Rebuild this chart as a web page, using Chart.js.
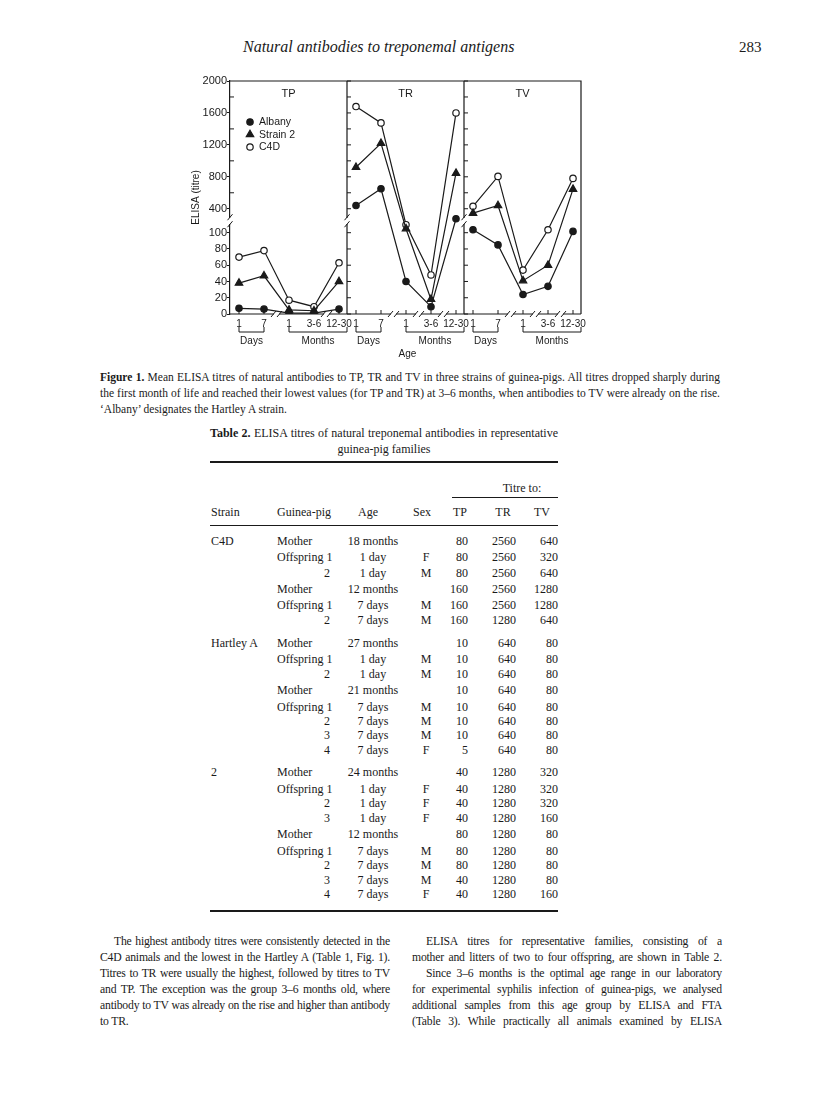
<!DOCTYPE html>
<html>
<head>
<meta charset="utf-8">
<script src="https://cdn.jsdelivr.net/npm/chart.js@4.4.0/dist/chart.umd.min.js"></script>
<style>
  body { margin: 0; width: 816px; height: 1105px; position: relative; background: #fff; color: #1a1a1a;
         font-family: "Liberation Serif", "Times New Roman", serif; }
  .t { position: absolute; white-space: nowrap; line-height: 14px; }
  .j { position: absolute; white-space: nowrap; line-height: 16px; text-align: justify; text-align-last: justify; }
  .b { font-size: 11.7px; letter-spacing: -0.2px; }
  .rule { position: absolute; background: #1a1a1a; }
  #wrap { position: absolute; left: 190px; top: 60px; width: 410px; height: 305px; }
</style>
</head>
<body>
<div class="t" style="left:243px;top:38px;font-size:16px;line-height:18px;font-style:italic">Natural antibodies to treponemal antigens</div>
<div class="t" style="left:739px;top:38px;font-size:15px;line-height:18px">283</div>

<div id="wrap"><canvas id="elisaChart"></canvas></div>

<div class="j" style="left:100px;top:369px;width:620px;font-size:11.5px"><b>Figure 1.</b> Mean ELISA titres of natural antibodies to TP, TR and TV in three strains of guinea-pigs. All titres dropped sharply during</div>
<div class="j" style="left:100px;top:385px;width:620px;font-size:11.5px">the first month of life and reached their lowest values (for TP and TR) at 3–6 months, when antibodies to TV were already on the rise.</div>
<div class="t" style="left:100px;top:402px;font-size:11.5px">‘Albany’ designates the Hartley A strain.</div>

<div class="j" style="left:210px;top:425px;width:348px;font-size:12px"><b>Table 2.</b> ELISA titres of natural treponemal antibodies in representative</div>
<div class="t" style="left:384px;top:442px;font-size:12px;transform:translateX(-50%)">guinea-pig families</div>
<div class="rule" style="left:210px;top:461px;width:348px;height:2px"></div>
<div class="rule" style="left:452px;top:497px;width:106px;height:1px"></div>
<div class="rule" style="left:210px;top:525px;width:348px;height:1px"></div>
<div class="rule" style="left:210px;top:910px;width:348px;height:1.5px"></div>
<div id="table"></div>

<div class="j b" style="left:114px;top:934px;width:276px">The highest antibody titres were consistently detected in the</div>
<div class="j b" style="left:100px;top:950px;width:290px">C4D animals and the lowest in the Hartley A (Table 1, Fig. 1).</div>
<div class="j b" style="left:100px;top:966px;width:290px">Titres to TR were usually the highest, followed by titres to TV</div>
<div class="j b" style="left:100px;top:982px;width:290px">and TP. The exception was the group 3–6 months old, where</div>
<div class="j b" style="left:100px;top:998px;width:290px">antibody to TV was already on the rise and higher than antibody</div>
<div class="t b" style="left:100px;top:1015px">to TR.</div>

<div class="j b" style="left:426px;top:934px;width:296px">ELISA titres for representative families, consisting of a</div>
<div class="j b" style="left:412px;top:950px;width:310px">mother and litters of two to four offspring, are shown in Table 2.</div>
<div class="j b" style="left:426px;top:966px;width:296px">Since 3–6 months is the optimal age range in our laboratory</div>
<div class="j b" style="left:412px;top:982px;width:310px">for experimental syphilis infection of guinea-pigs, we analysed</div>
<div class="j b" style="left:412px;top:998px;width:310px">additional samples from this age group by ELISA and FTA</div>
<div class="j b" style="left:412px;top:1014px;width:310px">(Table 3). While practically all animals examined by ELISA</div>

<script>
const ageLabels = ['1', '7', '1', '3-6', '12-30'];
const panelNames = ['TP', 'TR', 'TV'];
const yLabels = [0, 20, 40, 60, 80, 100, 400, 800, 1200, 1600, 2000];
const yMinor = [600, 1000, 1400, 1800];

// mean titres, 5 ages per panel, panels TP | TR | TV
const albany  = [7, 6, 1, 1, 6,     440, 650, 40, 9, 275,     137, 85, 24, 34, 116];
const strain2 = [38, 47, 5, 4, 40,  920, 1220, 150, 18, 845,  345, 440, 41, 60, 645];
const c4d     = [70, 78, 17, 9, 63, 1680, 1475, 200, 48, 1600, 430, 805, 54, 137, 780];

// table 2 rows: strain, guinea-pig, age, sex, TP, TR, TV
const tableRows = [
  ['C4D', 'Mother', '18 months', '', '80', '2560', '640'],
  ['', 'Offspring 1', '1 day', 'F', '80', '2560', '320'],
  ['', '2', '1 day', 'M', '80', '2560', '640'],
  ['', 'Mother', '12 months', '', '160', '2560', '1280'],
  ['', 'Offspring 1', '7 days', 'M', '160', '2560', '1280'],
  ['', '2', '7 days', 'M', '160', '1280', '640'],
  ['Hartley A', 'Mother', '27 months', '', '10', '640', '80'],
  ['', 'Offspring 1', '1 day', 'M', '10', '640', '80'],
  ['', '2', '1 day', 'M', '10', '640', '80'],
  ['', 'Mother', '21 months', '', '10', '640', '80'],
  ['', 'Offspring 1', '7 days', 'M', '10', '640', '80'],
  ['', '2', '7 days', 'M', '10', '640', '80'],
  ['', '3', '7 days', 'M', '10', '640', '80'],
  ['', '4', '7 days', 'F', '5', '640', '80'],
  ['2', 'Mother', '24 months', '', '40', '1280', '320'],
  ['', 'Offspring 1', '1 day', 'F', '40', '1280', '320'],
  ['', '2', '1 day', 'F', '40', '1280', '320'],
  ['', '3', '1 day', 'F', '40', '1280', '160'],
  ['', 'Mother', '12 months', '', '80', '1280', '80'],
  ['', 'Offspring 1', '7 days', 'M', '80', '1280', '80'],
  ['', '2', '7 days', 'M', '80', '1280', '80'],
  ['', '3', '7 days', 'M', '40', '1280', '80'],
  ['', '4', '7 days', 'F', '40', '1280', '160']
];
const rowY = [541, 557, 573, 589, 605, 620, 643, 659, 674, 690, 707, 721, 735, 750,
              772, 789, 803, 818, 834, 851, 865, 880, 894];

// ---- table (plain text) ----
const tbl = document.getElementById('table');
function put(text, x, y, align) {
  const d = document.createElement('div');
  d.className = 't';
  d.textContent = text;
  d.style.fontSize = '12px';
  d.style.top = (y - 7) + 'px';
  if (align === 'right') d.style.right = (816 - x) + 'px';
  else if (align === 'center') { d.style.left = x + 'px'; d.style.transform = 'translateX(-50%)'; }
  else d.style.left = x + 'px';
  tbl.appendChild(d);
}
put('Titre to:', 522, 488, 'center');
[['Strain', 211, 'left'], ['Guinea-pig', 277, 'left'], ['Age', 368, 'center'], ['Sex', 422, 'center'],
 ['TP', 460, 'center'], ['TR', 503, 'center'], ['TV', 542, 'center']].forEach(h => put(h[0], h[1], 512, h[2]));
tableRows.forEach((r, k) => {
  const y = rowY[k];
  if (r[0]) put(r[0], 211, y, 'left');
  if (/^\d$/.test(r[1])) put(r[1], 330, y, 'right'); else put(r[1], 277, y, 'left');
  put(r[2], 373, y, 'center');
  if (r[3]) put(r[3], 426, y, 'center');
  put(r[4], 468, y, 'right');
  put(r[5], 516, y, 'right');
  put(r[6], 558, y, 'right');
});

// ---- chart ----
const ink = '#1a1a1a';
const chartFont = '"Liberation Sans", Arial, sans-serif';
const STEP = 4.68;           // x units from one panel to the next
const CUT = 100, K = 0.0982; // axis breaks above 100, compressed scale

function toAxis(v) { return v <= CUT ? v : CUT + (v - CUT) * K; }
function xOf(p, i) { return p * STEP + i; }

function series(vals) {
  const pts = [];
  panelNames.forEach((_, p) => {
    if (p > 0) pts.push({ x: xOf(p, -0.36), y: null });
    ageLabels.forEach((_, i) => pts.push({ x: xOf(p, i), y: toAxis(vals[p * ageLabels.length + i]) }));
  });
  return pts;
}

function slash(ctx, x, y) {
  ctx.beginPath();
  ctx.moveTo(x - 2.5, y + 3);
  ctx.lineTo(x + 2.5, y - 3);
  ctx.stroke();
}

const framePlugin = {
  id: 'frame',
  beforeDatasetsDraw(chart) {
    const { ctx, chartArea: a, scales: { x: xs, y: ys } } = chart;
    ctx.save();
    ctx.strokeStyle = ink;
    ctx.lineWidth = 1.2;
    ctx.beginPath();
    ctx.moveTo(a.left, a.top); ctx.lineTo(a.right, a.top); ctx.lineTo(a.right, a.bottom);
    ctx.moveTo(a.left, a.bottom); ctx.lineTo(a.right, a.bottom);
    const dividers = [1, 2].map(p => xs.getPixelForValue(xOf(p, -0.36)));
    dividers.forEach(dx => { ctx.moveTo(dx, a.top); ctx.lineTo(dx, a.bottom); });
    ctx.stroke();

    // inner ticks
    ctx.lineWidth = 1;
    ctx.beginPath();
    yLabels.concat(yMinor).forEach(v => {
      const py = ys.getPixelForValue(toAxis(v));
      dividers.forEach(dx => { ctx.moveTo(dx, py); ctx.lineTo(dx + 4, py); });
    });
    yMinor.forEach(v => {
      const py = ys.getPixelForValue(toAxis(v));
      ctx.moveTo(a.left, py); ctx.lineTo(a.left + 4, py);
    });
    panelNames.forEach((_, p) => ageLabels.forEach((_, i) => {
      const px = xs.getPixelForValue(xOf(p, i));
      ctx.moveTo(px, a.bottom); ctx.lineTo(px, a.bottom - 4);
    }));
    ctx.stroke();

    // y-axis breaks
    const yb = (ys.getPixelForValue(toAxis(100)) + ys.getPixelForValue(toAxis(400))) / 2;
    [a.left].concat(dividers).forEach(bx => {
      ctx.clearRect(bx - 2, yb - 3, 4, 6);
      slash(ctx, bx, yb - 3.5);
      slash(ctx, bx, yb + 3.5);
    });

    // x-axis breaks
    const xBreaks = [[1.5, 3.5], [1.5, 2.5, 3.5], [1.5, 2.5, 3.5]];
    xBreaks.forEach((list, p) => list.forEach(b => {
      const bx = xs.getPixelForValue(xOf(p, b));
      ctx.clearRect(bx - 2.5, a.bottom - 2, 5, 4);
      slash(ctx, bx - 3, a.bottom);
      slash(ctx, bx + 3, a.bottom);
    }));
    ctx.restore();
  },
  afterDraw(chart) {
    const { ctx, chartArea: a, scales: { x: xs } } = chart;
    ctx.save();
    ctx.fillStyle = ink;
    ctx.strokeStyle = ink;
    ctx.textBaseline = 'middle';

    // panel titles
    ctx.font = '11px ' + chartFont;
    ctx.textAlign = 'center';
    const edges = [0, 1, 2, 3].map(p => p < 3 ? xs.getPixelForValue(xOf(p, -0.36)) : a.right);
    panelNames.forEach((n, p) => ctx.fillText(n, (edges[p] + edges[p + 1]) / 2, a.top + 13));

    // legend
    const legend = chart.data.datasets;
    ctx.font = '10.5px ' + chartFont;
    ctx.textAlign = 'left';
    legend.forEach((ds, k) => {
      const ly = a.top + 41 + k * 12.5;
      ctx.fillStyle = ds.pointBackgroundColor;
      ctx.lineWidth = ds.pointBorderWidth;
      Chart.helpers.drawPoint(ctx, { pointStyle: ds.pointStyle, radius: ds.pointRadius, rotation: 0, borderWidth: ds.pointBorderWidth }, a.left + 20, ly);
      ctx.fillStyle = ink;
      ctx.fillText(ds.label, a.left + 29, ly + 0.5);
    });

    // age labels and brackets
    ctx.font = '10px ' + chartFont;
    ctx.textAlign = 'center';
    ctx.lineWidth = 1;
    panelNames.forEach((_, p) => {
      const px = ageLabels.map((_, i) => xs.getPixelForValue(xOf(p, i)));
      ageLabels.forEach((l, i) => ctx.fillText(l, px[i], a.bottom + 10));
      const groups = [['Days', px[0], px[1]], ['Months', px[2], edges[p + 1]]];
      groups.forEach(g => {
        ctx.beginPath();
        ctx.moveTo(g[1], a.bottom + 13); ctx.lineTo(g[1], a.bottom + 18);
        ctx.lineTo(g[2], a.bottom + 18); ctx.lineTo(g[2], a.bottom + 13);
        ctx.stroke();
        ctx.fillText(g[0], (g[1] + g[2]) / 2, a.bottom + 27);
      });
    });
    ctx.fillText('Age', (edges[1] + edges[2]) / 2 + 2, a.bottom + 40);
    ctx.restore();
  }
};

const lineStyle = { borderColor: ink, borderWidth: 1.2, pointBorderColor: ink, pointBorderWidth: 1.2, spanGaps: false, tension: 0 };

new Chart(document.getElementById('elisaChart'), {
  type: 'line',
  data: {
    datasets: [
      { ...lineStyle, label: 'Albany', data: series(albany), pointStyle: 'circle', pointRadius: 3.2, pointBackgroundColor: ink },
      { ...lineStyle, label: 'Strain 2', data: series(strain2), pointStyle: 'triangle', pointRadius: 4.3, pointBackgroundColor: ink },
      { ...lineStyle, label: 'C4D', data: series(c4d), pointStyle: 'circle', pointRadius: 3.2, pointBackgroundColor: '#fff' }
    ]
  },
  options: {
    responsive: true, maintainAspectRatio: false, animation: false,
    layout: { padding: { left: 0, top: 21, right: 19, bottom: 51 } },
    plugins: { legend: { display: false }, tooltip: { enabled: false } },
    scales: {
      x: { type: 'linear', display: false, min: -0.36, max: 3 * STEP - 0.36 },
      y: {
        type: 'linear', min: 0, max: toAxis(2000),
        afterBuildTicks: s => { s.ticks = yLabels.map(v => ({ value: toAxis(v) })); },
        afterFit: s => { s.width = 40; },
        ticks: { autoSkip: false, padding: 0, color: ink, font: { size: 11, family: chartFont },
                 callback: (v, i) => String(yLabels[i]) },
        grid: { drawOnChartArea: false, tickLength: 3, color: ink, lineWidth: 1 },
        border: { display: true, color: ink, width: 1.2 },
        title: { display: true, text: 'ELISA (titre)', color: ink, padding: 0, font: { size: 10, family: chartFont } }
      }
    }
  },
  plugins: [framePlugin]
});
</script>
</body>
</html>
